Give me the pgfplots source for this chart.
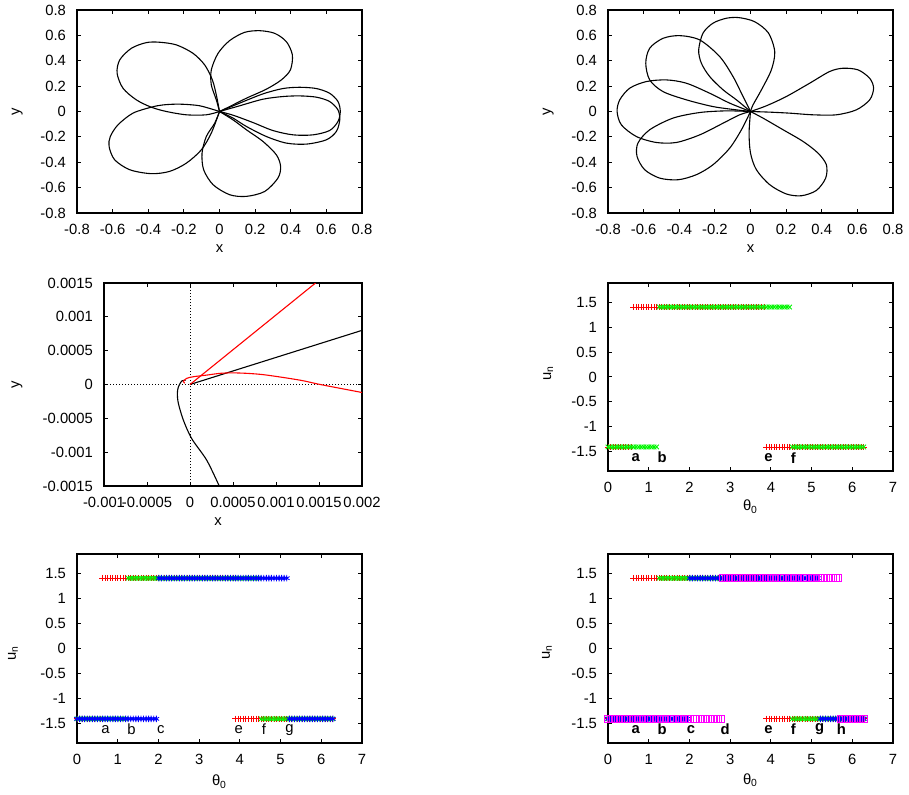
\documentclass[border=0pt]{standalone}
\usepackage{fontspec}
\setmainfont{Liberation Sans}
\usepackage{pgfplots}
\usepackage{pgfplotstable}
\pgfplotsset{compat=1.18}

\definecolor{gpred}{RGB}{255,0,0}
\definecolor{gpgreen}{RGB}{0,245,0}
\definecolor{gpblue}{RGB}{0,0,255}
\definecolor{gpmag}{RGB}{255,0,255}
\newcommand\fs{\fontsize{7.4}{8.5}\selectfont}

% theta_0 grid, u_n of each iteration (red, green, blue, magenta)
\pgfplotstableread{
t r g b m
0.000 -1.414 -1.414 -1.414 -1.414
0.063 -1.414 -1.414 -1.414 -1.414
0.126 -1.414 -1.414 -1.414 -1.414
0.188 -1.414 -1.414 -1.414 -1.414
0.251 -1.414 -1.414 -1.414 -1.414
0.314 -1.414 -1.414 -1.414 -1.414
0.377 -1.414 -1.414 -1.414 -1.414
0.440 -1.414 -1.414 -1.414 -1.414
0.503 -1.414 -1.414 -1.414 -1.414
0.565 -1.414 -1.414 -1.414 -1.414
0.628 1.414 -1.414 -1.414 -1.414
0.691 1.414 -1.414 -1.414 -1.414
0.754 1.414 -1.414 -1.414 -1.414
0.817 1.414 -1.414 -1.414 -1.414
0.880 1.414 -1.414 -1.414 -1.414
0.942 1.414 -1.414 -1.414 -1.414
1.005 1.414 -1.414 -1.414 -1.414
1.068 1.414 -1.414 -1.414 -1.414
1.131 1.414 -1.414 -1.414 -1.414
1.194 1.414 -1.414 -1.414 -1.414
1.257 1.414 1.414 -1.414 -1.414
1.319 1.414 1.414 -1.414 -1.414
1.382 1.414 1.414 -1.414 -1.414
1.445 1.414 1.414 -1.414 -1.414
1.508 1.414 1.414 -1.414 -1.414
1.571 1.414 1.414 -1.414 -1.414
1.634 1.414 1.414 -1.414 -1.414
1.696 1.414 1.414 -1.414 -1.414
1.759 1.414 1.414 -1.414 -1.414
1.822 1.414 1.414 -1.414 -1.414
1.885 1.414 1.414 -1.414 -1.414
1.948 1.414 1.414 -1.414 -1.414
2.011 1.414 1.414 1.414 -1.414
2.073 1.414 1.414 1.414 -1.414
2.136 1.414 1.414 1.414 -1.414
2.199 1.414 1.414 1.414 -1.414
2.262 1.414 1.414 1.414 -1.414
2.325 1.414 1.414 1.414 -1.414
2.388 1.414 1.414 1.414 -1.414
2.450 1.414 1.414 1.414 -1.414
2.513 1.414 1.414 1.414 -1.414
2.576 1.414 1.414 1.414 -1.414
2.639 1.414 1.414 1.414 -1.414
2.702 1.414 1.414 1.414 -1.414
2.765 1.414 1.414 1.414 -1.414
2.827 1.414 1.414 1.414 1.414
2.890 1.414 1.414 1.414 1.414
2.953 1.414 1.414 1.414 1.414
3.016 1.414 1.414 1.414 1.414
3.079 1.414 1.414 1.414 1.414
3.142 1.414 1.414 1.414 1.414
3.204 1.414 1.414 1.414 1.414
3.267 1.414 1.414 1.414 1.414
3.330 1.414 1.414 1.414 1.414
3.393 1.414 1.414 1.414 1.414
3.456 1.414 1.414 1.414 1.414
3.519 1.414 1.414 1.414 1.414
3.581 1.414 1.414 1.414 1.414
3.644 1.414 1.414 1.414 1.414
3.707 1.414 1.414 1.414 1.414
3.770 1.414 1.414 1.414 1.414
3.833 1.414 1.414 1.414 1.414
3.896 -1.414 1.414 1.414 1.414
3.958 -1.414 1.414 1.414 1.414
4.021 -1.414 1.414 1.414 1.414
4.084 -1.414 1.414 1.414 1.414
4.147 -1.414 1.414 1.414 1.414
4.210 -1.414 1.414 1.414 1.414
4.273 -1.414 1.414 1.414 1.414
4.335 -1.414 1.414 1.414 1.414
4.398 -1.414 1.414 1.414 1.414
4.461 -1.414 1.414 1.414 1.414
4.524 -1.414 -1.414 1.414 1.414
4.587 -1.414 -1.414 1.414 1.414
4.650 -1.414 -1.414 1.414 1.414
4.712 -1.414 -1.414 1.414 1.414
4.775 -1.414 -1.414 1.414 1.414
4.838 -1.414 -1.414 1.414 1.414
4.901 -1.414 -1.414 1.414 1.414
4.964 -1.414 -1.414 1.414 1.414
5.027 -1.414 -1.414 1.414 1.414
5.089 -1.414 -1.414 1.414 1.414
5.152 -1.414 -1.414 1.414 1.414
5.215 -1.414 -1.414 -1.414 1.414
5.278 -1.414 -1.414 -1.414 1.414
5.341 -1.414 -1.414 -1.414 1.414
5.404 -1.414 -1.414 -1.414 1.414
5.466 -1.414 -1.414 -1.414 1.414
5.529 -1.414 -1.414 -1.414 1.414
5.592 -1.414 -1.414 -1.414 1.414
5.655 -1.414 -1.414 -1.414 1.414
5.718 -1.414 -1.414 -1.414 -1.414
5.781 -1.414 -1.414 -1.414 -1.414
5.843 -1.414 -1.414 -1.414 -1.414
5.906 -1.414 -1.414 -1.414 -1.414
5.969 -1.414 -1.414 -1.414 -1.414
6.032 -1.414 -1.414 -1.414 -1.414
6.095 -1.414 -1.414 -1.414 -1.414
6.158 -1.414 -1.414 -1.414 -1.414
6.220 -1.414 -1.414 -1.414 -1.414
6.283 -1.414 -1.414 -1.414 -1.414
}\untab

\tikzset{lt/.style={font=\fs, anchor=center, inner sep=0pt}}

\pgfplotsset{
  gp/.style={scale only axis,
    axis line style={line width=0.6pt},
    tick style={line width=0.5pt,black},
    tick align=inside, major tick length=2.2pt,
    tick label style={font=\fs},
    label style={font=\fs},
    xticklabel style={yshift=-2.2pt},
    yticklabel style={xshift=-2pt},
    scaled ticks=false},
  rose/.style={gp, xmin=-0.8, xmax=0.8, ymin=-0.8, ymax=0.8,
    width=142.5pt, height=101.5pt,
    xtick={-0.8,-0.6,-0.4,-0.2,0,0.2,0.4,0.6,0.8},
    xticklabels={-0.8,-0.6,-0.4,-0.2,0,0.2,0.4,0.6,0.8},
    ytick={-0.8,-0.6,-0.4,-0.2,0,0.2,0.4,0.6,0.8},
    yticklabels={-0.8,-0.6,-0.4,-0.2,0,0.2,0.4,0.6,0.8},
    xlabel={x}, ylabel={y},
    xlabel style={at={(axis description cs:0.5,-0.175)},anchor=center},
    ylabel style={at={(axis description cs:-0.21,0.5)},anchor=center}},
  un/.style={gp, xmin=0, xmax=7, ymin=-1.9, ymax=1.9, clip=false,
    width=142.5pt,
    xtick={0,1,2,3,4,5,6,7}, xticklabels={0,1,2,3,4,5,6,7},
    ytick={-1.5,-1,-0.5,0,0.5,1,1.5},
    yticklabels={-1.5,-1,-0.5,0,0.5,1,1.5},
    xlabel={θ\textsubscript{0}}, ylabel={u\textsubscript{n}}},
  cur/.style={black, line width=0.55pt, smooth, no markers},
  pr/.style={only marks, mark=+, color=gpred, mark size=1.6pt, line width=0.45pt},
  pg/.style={only marks, mark=x, color=gpgreen, mark size=1.6pt, line width=0.45pt},
  pb/.style={only marks, mark=asterisk, color=gpblue, mark size=1.6pt, line width=0.45pt},
  pm/.style={only marks, mark=square, color=gpmag, mark size=1.8pt, line width=0.45pt},
}

\begin{document}
\begin{tikzpicture}
\path[use as bounding box] (0,0) rectangle (454.5pt,397pt);

% top left
\begin{axis}[rose, at={(38.5pt,290.5pt)}]
\addplot[cur] coordinates {(0,0) (-0.074,-0.026) (-0.186,-0.026) (-0.298,0.0) (-0.383,0.034) (-0.467,0.092) (-0.542,0.184) (-0.575,0.302) (-0.560,0.407) (-0.495,0.498) (-0.411,0.543) (-0.336,0.546) (-0.242,0.525) (-0.149,0.459) (-0.083,0.367) (-0.040,0.249) (-0.018,0.131) (0,0)};
\addplot[cur] coordinates {(0,0) (-0.111,0.045) (-0.224,0.058) (-0.317,0.052) (-0.383,0.034) (-0.486,-0.013) (-0.570,-0.105) (-0.613,-0.197) (-0.620,-0.275) (-0.589,-0.380) (-0.504,-0.459) (-0.383,-0.490) (-0.280,-0.472) (-0.186,-0.407) (-0.102,-0.302) (-0.046,-0.170) (0,0)};
\addplot[cur] coordinates {(0,0) (-0.027,-0.092) (-0.074,-0.197) (-0.098,-0.328) (-0.089,-0.459) (-0.036,-0.577) (0.057,-0.656) (0.151,-0.669) (0.254,-0.630) (0.328,-0.525) (0.343,-0.433) (0.319,-0.341) (0.244,-0.236) (0.151,-0.144) (0.076,-0.066) (0,0)};
\addplot[cur] coordinates {(0,0) (-0.018,0.092) (-0.046,0.210) (-0.046,0.328) (-0.008,0.459) (0.057,0.559) (0.141,0.624) (0.226,0.637) (0.310,0.616) (0.375,0.551) (0.409,0.446) (0.398,0.328) (0.347,0.249) (0.263,0.176) (0.151,0.105) (0.057,0.039) (0,0)};
\addplot[cur] coordinates {(0,0) (0.113,0.066) (0.244,0.139) (0.356,0.181) (0.450,0.191) (0.544,0.181) (0.618,0.144) (0.665,0.079) (0.678,0.0) (0.665,-0.079) (0.618,-0.150) (0.525,-0.184) (0.413,-0.184) (0.300,-0.150) (0.188,-0.087) (0.076,-0.029) (0,0)};
\addplot[cur] coordinates {(0,0) (0.113,0.045) (0.244,0.097) (0.356,0.118) (0.450,0.123) (0.544,0.113) (0.618,0.079) (0.665,0.013) (0.675,-0.066) (0.656,-0.157) (0.600,-0.223) (0.488,-0.257) (0.375,-0.249) (0.263,-0.197) (0.151,-0.118) (0.076,-0.052) (0,0)};
\end{axis}

% top right
\begin{axis}[rose, at={(304pt,290.5pt)}]
\addplot[cur] coordinates {(0,0) (-0.079,0.092) (-0.154,0.171) (-0.229,0.275) (-0.276,0.381) (-0.291,0.485) (-0.267,0.617) (-0.211,0.696) (-0.136,0.735) (-0.065,0.740) (0.023,0.708) (0.100,0.620) (0.136,0.472) (0.117,0.328) (0.061,0.170) (0.014,0.052) (0,0)};
\addplot[cur] coordinates {(0,0) (-0.079,0.013) (-0.211,0.039) (-0.360,0.092) (-0.491,0.157) (-0.566,0.249) (-0.588,0.381) (-0.566,0.499) (-0.491,0.577) (-0.397,0.598) (-0.285,0.564) (-0.173,0.433) (-0.098,0.275) (-0.042,0.118) (0,0)};
\addplot[cur] coordinates {(0,0) (-0.117,0.066) (-0.229,0.144) (-0.360,0.223) (-0.472,0.249) (-0.585,0.236) (-0.678,0.184) (-0.734,0.092) (-0.749,0.0) (-0.725,-0.105) (-0.641,-0.197) (-0.529,-0.244) (-0.416,-0.244) (-0.285,-0.184) (-0.154,-0.092) (-0.061,-0.026) (0,0)};
\addplot[cur] coordinates {(0,0) (-0.136,0.005) (-0.285,-0.008) (-0.435,-0.052) (-0.566,-0.144) (-0.632,-0.249) (-0.637,-0.354) (-0.594,-0.459) (-0.510,-0.525) (-0.407,-0.538) (-0.304,-0.498) (-0.211,-0.420) (-0.117,-0.289) (-0.051,-0.144) (0,0)};
\addplot[cur] coordinates {(0,0) (-0.008,-0.170) (0.0,-0.328) (0.033,-0.459) (0.108,-0.577) (0.201,-0.650) (0.286,-0.664) (0.370,-0.622) (0.422,-0.525) (0.426,-0.420) (0.379,-0.328) (0.295,-0.236) (0.183,-0.144) (0.070,-0.052) (0,0)};
\addplot[cur] coordinates {(0,0) (0.089,0.045) (0.201,0.118) (0.332,0.223) (0.444,0.315) (0.519,0.341) (0.604,0.328) (0.669,0.262) (0.691,0.184) (0.669,0.092) (0.594,0.013) (0.482,-0.026) (0.351,-0.026) (0.220,-0.013) (0.108,-0.005) (0,0)};
\end{axis}

% middle left: zoom near the origin
\begin{axis}[gp, at={(52pt,154pt)}, width=129pt, height=101.5pt,
  xmin=-0.001, xmax=0.002, ymin=-0.0015, ymax=0.0015,
  xtick={-0.001,-0.0005,0,0.0005,0.001,0.0015,0.002},
  xticklabels={-0.001,-0.0005,0,0.0005,0.001,0.0015,0.002},
  ytick={-0.0015,-0.001,-0.0005,0,0.0005,0.001,0.0015},
  yticklabels={-0.0015,-0.001,-0.0005,0,0.0005,0.001,0.0015},
  xlabel={x}, ylabel={y},
  xlabel style={at={(axis description cs:0.442,-0.177)},anchor=center},
  ylabel style={at={(axis description cs:-0.337,0.5)},anchor=center}]
\addplot[black, line width=0.5pt, dash pattern=on 0.5pt off 1pt] coordinates {(-0.001,0) (0.002,0)};
\addplot[black, line width=0.5pt, dash pattern=on 0.5pt off 1pt] coordinates {(0,-0.0015) (0,0.0015)};
\addplot[cur] coordinates {(-0.00005,0.00006) (-0.000095,0.000053) (-0.000135,-0.000035) (-0.000147,-0.000133) (-0.000135,-0.00028) (-0.000077,-0.000527) (0.00002,-0.0008) (0.000195,-0.00112) (0.00034,-0.0015)};
\addplot[black, line width=0.55pt] coordinates {(0,0) (0.002,0.0008)};
\addplot[red, line width=0.55pt] coordinates {(0,0) (0.00146,0.0015)};
\addplot[cur, red] coordinates {(-0.00006,0.00002) (-0.000077,0.000045) (-0.00004,0.00009) (0.00004,0.000115) (0.0002,0.00014) (0.00035,0.000165) (0.0005,0.000172) (0.0007,0.000162) (0.0009,0.000138) (0.00128,0.000064) (0.001515,0) (0.002,-0.000118)};
\end{axis}

% middle right
\begin{axis}[un, at={(304pt,161.5pt)}, height=94pt,
  xlabel style={at={(axis description cs:0.5,-0.19)},anchor=center},
  ylabel style={at={(axis description cs:-0.21,0.52)},anchor=center}]
\addplot[pr] table[x=t,y=r] {\untab};
\addplot[pg] table[x=t,y=g] {\untab};
\node[lt,font=\fs\bfseries] at (axis cs:0.68,-1.63) {a};
\node[lt,font=\fs\bfseries] at (axis cs:1.33,-1.63) {b};
\node[lt,font=\fs\bfseries] at (axis cs:3.94,-1.63) {e};
\node[lt,font=\fs\bfseries] at (axis cs:4.55,-1.63) {f};
\end{axis}

% bottom left
\begin{axis}[un, at={(38.5pt,25.5pt)}, height=94.5pt,
  xlabel style={at={(axis description cs:0.5,-0.205)},anchor=center},
  ylabel style={at={(axis description cs:-0.225,0.476)},anchor=center}]
\addplot[pr] table[x=t,y=r] {\untab};
\addplot[pg] table[x=t,y=g] {\untab};
\addplot[pb] table[x=t,y=b] {\untab};
\node[lt] at (axis cs:0.70,-1.63) {a};
\node[lt] at (axis cs:1.34,-1.63) {b};
\node[lt] at (axis cs:2.06,-1.63) {c};
\node[lt] at (axis cs:3.97,-1.63) {e};
\node[lt] at (axis cs:4.59,-1.63) {f};
\node[lt] at (axis cs:5.22,-1.63) {g};
\end{axis}

% bottom right
\begin{axis}[un, at={(304pt,25.5pt)}, height=94.5pt,
  xlabel style={at={(axis description cs:0.5,-0.196)},anchor=center},
  ylabel style={at={(axis description cs:-0.214,0.48)},anchor=center}]
\addplot[pr] table[x=t,y=r] {\untab};
\addplot[pg] table[x=t,y=g] {\untab};
\addplot[pb] table[x=t,y=b] {\untab};
\addplot[pm] table[x=t,y=m] {\untab};
\node[lt,font=\fs\bfseries] at (axis cs:0.68,-1.63) {a};
\node[lt,font=\fs\bfseries] at (axis cs:1.33,-1.63) {b};
\node[lt,font=\fs\bfseries] at (axis cs:2.04,-1.63) {c};
\node[lt,font=\fs\bfseries] at (axis cs:2.88,-1.63) {d};
\node[lt,font=\fs\bfseries] at (axis cs:3.94,-1.63) {e};
\node[lt,font=\fs\bfseries] at (axis cs:4.55,-1.63) {f};
\node[lt,font=\fs\bfseries] at (axis cs:5.20,-1.63) {g};
\node[lt,font=\fs\bfseries] at (axis cs:5.73,-1.63) {h};
\end{axis}
\end{tikzpicture}
\end{document}
